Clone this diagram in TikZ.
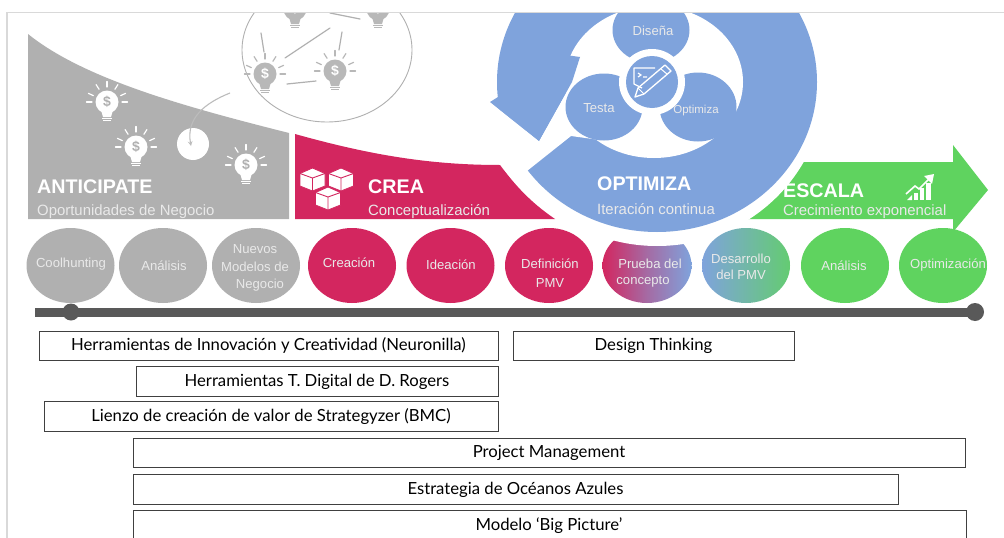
\documentclass[tikz,border=0pt]{standalone}
\usepackage{fontspec}
\setmainfont{Liberation Sans}
\newfontfamily\boxfont{Lato}
\definecolor{gr}{HTML}{B0B0B0}
\definecolor{cr}{HTML}{D3265F}
\definecolor{bl}{HTML}{7FA3DC}
\definecolor{gn}{HTML}{5FD35F}
\definecolor{bar}{HTML}{595959}
\definecolor{soft}{HTML}{E9E9E9}
\tikzset{
  title/.style={anchor=west,inner sep=0pt,text=white,font=\fontsize{19.7}{21}\selectfont\bfseries},
  sub/.style={anchor=west,inner sep=0pt,text=soft,font=\fontsize{14.9}{16}\selectfont},
  dot/.style={inner sep=0pt,align=center,text=soft,font=\fontsize{13.1}{18}\selectfont},
  tool/.style={draw=black!75,line width=0.8pt,fill=white,inner sep=0pt,text height=12pt,text depth=2pt,font=\boxfont\fontsize{16.7}{18}\selectfont,text=black},
  thin gray/.style={draw=gr,line width=0.9pt},
  wire/.style={draw=gr,line width=1.2pt,line cap=round}
}
% \bulb{name}{x}{y}{glass colour}{dollar colour}
\newcommand{\bulb}[5]{%
  \begin{scope}[shift={(#2,#3)}]
    \fill[#4] (0,0) circle[radius=11.5pt];
    \fill[#4] (-6,8) -- (6,8) -- (4,15) -- (-4,15) -- cycle;
    \fill[#4] (-5,15.8) rectangle (5,17);
    \fill[#4] (-4,18) rectangle (4,19);
    \foreach \a in {0,180,25,155,58,122,90}{
      \draw[#4,line width=1.2pt,line cap=round] (\a:15pt) -- (\a:20.5pt);
    }
    \node[inner sep=0pt,text=#5,font=\fontsize{14}{14}\selectfont\bfseries] (#1) at (0,0) {\$};
  \end{scope}}
\newcommand{\cube}[2]{%
  \begin{scope}[shift={(#1,#2)}]
    \filldraw[fill=white,draw=cr,line width=0.8pt] (-12.5,-6) -- (0,-11.5) -- (12.5,-6) -- (12.5,6.5) -- (0,11.5) -- (-12.5,6.5) -- cycle;
    \draw[cr,line width=0.9pt] (-12.5,-6) -- (0,-1.5) -- (12.5,-6) (0,-1.5) -- (0,11.5);
  \end{scope}}
\begin{document}
\begin{tikzpicture}[x=1pt,y=-1pt]
\useasboundingbox (0,0) rectangle (1004,538);
\clip (0,0) rectangle (1004,538);
\fill[white] (0,0) rectangle (1004,538);

% thought bubble
\draw[thin gray] (327,50) ellipse[x radius=85pt,y radius=72pt];
\bulb{b4}{265}{74}{gr!90}{white}
\bulb{b5}{335}{71}{gr!90}{white}
\bulb{b6}{295}{9}{gr!90}{white}
\bulb{b7}{378}{9}{gr!90}{white}
\draw[wire] (261,33) -- (264,52);
\draw[wire] (285,58) -- (330,28);
\draw[wire] (342,32) -- (339,50);
\draw[wire] (287,84) -- (316,81);
\draw[wire] (330,13) -- (360,19);

% green arrow (its left edge is cut by the halo below)
\fill[gn] (730,219) -- (780,162) -- (953,162) -- (953,145)
  -- (988,190) -- (953,232) -- (953,219) -- cycle;

% prueba circle, cut by the halo round the blue disc
\shade[left color=cr,right color=bl,middle color=cr!45!bl] (647,265.5) ellipse[x radius=44.5pt,y radius=37.5pt];
\fill[white] (657,82) ellipse[x radius=168pt,y radius=164pt];

% blue cycle
\fill[bl] (657,82) ellipse[x radius=160pt,y radius=150pt];
\fill[white] (654,82) ellipse[x radius=89pt,y radius=76pt];
\fill[white] (490,102) -- (539,141) -- (572,82) -- (600,100) -- (600,140) -- (571,136)
  -- (527,171) -- (480,195) -- (480,102) -- cycle;
\fill[bl] (490,102) -- (498,97) -- (530,50) -- (580,57) -- (572,82) -- (539,141) -- cycle;
\fill[bl] (651,30) ellipse[x radius=38.5pt,y radius=33pt];
\fill[bl] (604,107) ellipse[x radius=38.5pt,y radius=33.5pt];
\fill[bl] (698,107) ellipse[x radius=38.5pt,y radius=34.5pt];
\fill[white] (652,82) circle[radius=33pt];
\fill[bl] (652,82) circle[radius=26pt];
% pencil-and-screen icon
\draw[white,line width=1.2pt,line join=round] (655,68) -- (634,68) -- (634,84) -- (642,88);
\draw[white,line width=1.2pt] (638,73) -- (641,75) -- (638,77) (643,77) -- (647,77);
\draw[white,line width=1.3pt,line join=round] (635,97) -- (638,88) -- (665,65) -- (671,71) -- (644,94) -- cycle;
\draw[white,line width=1pt] (638,88) -- (644,94) (661,69) -- (667,74);

% gray block
\fill[gr] (28,34) .. controls (85,80) and (190,108) .. (289,133) -- (289,219) -- (28,219) -- cycle;
\bulb{b1}{107}{102}{white}{gr}
\bulb{b2}{136}{147}{white}{gr}
\bulb{b3}{246}{165}{white}{gr}
\fill[white] (193,144) circle[radius=16pt];
\coordinate (curveA) at (230,93);
\coordinate (curveB) at (191,146);
\draw[gr!85!white,line width=1.1pt,-stealth] (curveA) .. controls (205,103) and (186,118) .. (curveB);

% crimson block
\fill[cr] (295,134) .. controls (370,155) and (430,165) .. (500,165)
  .. controls (515,185) and (530,202) .. (555,219) -- (295,219) -- cycle;
\cube{312.5}{179.5}
\cube{341}{179.5}
\cube{328}{198.5}

% chart icon
\begin{scope}
  \fill[white] (907,200) -- (912,195) -- (912,200) -- cycle;
  \fill[white] (914,193) rectangle (918,200);
  \fill[white] (920,188) rectangle (924,200);
  \fill[white] (926,183) rectangle (931,200);
  \draw[white,line width=1.6pt] (906,194) -- (915,186) -- (919,189) -- (931,177);
  \fill[white] (934,174) -- (924,176) -- (932,184) -- cycle;
\end{scope}

% block titles
\node[title] (t1) at (37,187) {ANTICIPATE};
\node[sub]   (s1) at (37,212) {Oportunidades de Negocio};
\node[title] (t2) at (368,187) {CREA};
\node[sub]   (s2) at (368,212) {Conceptualización};
\node[title] (t3) at (597,184) {OPTIMIZA};
\node[sub]   (s3) at (597,209) {Iteración continua};
\node[title] (t4) at (783,191) {ESCALA};
\node[sub]   (s4) at (783,212) {Crecimiento exponencial};

% cycle labels
\node[dot] (c1) at (653,31) {Diseña};
\node[dot] (c2) at (599,108) {Testa};
\node[dot,font=\fontsize{11.5}{14}\selectfont] (c3) at (696,111) {Optimiza};

% row of discs
\fill[gr] (70.5,265.5) ellipse[x radius=44pt,y radius=37.5pt];
\fill[gr] (163,265.5) ellipse[x radius=44pt,y radius=37.5pt];
\fill[gr] (256,265.5) ellipse[x radius=44pt,y radius=37.5pt];
\fill[cr] (352,265.5) ellipse[x radius=44pt,y radius=37.5pt];
\fill[cr] (450.5,265.5) ellipse[x radius=44pt,y radius=37.5pt];
\fill[cr] (549,265.5) ellipse[x radius=44pt,y radius=37.5pt];
\shade[left color=bl,right color=gn!85!bl] (746,265.5) ellipse[x radius=44pt,y radius=37.5pt];
\fill[gn] (845,265.5) ellipse[x radius=44pt,y radius=37.5pt];
\fill[gn] (943,265.5) ellipse[x radius=44pt,y radius=37.5pt];

\node[dot] (d1) at (71,264) {Coolhunting};
\node[dot] (d2) at (164,266) {Análisis};
\node[dot] (d3a) at (255,249) {Nuevos};
\node[dot] (d3b) at (255,267) {Modelos de};
\node[dot] (d3c) at (260,285) {Negocio};
\node[dot] (d4) at (349,263) {Creación};
\node[dot] (d5) at (451,265) {Ideación};
\node[dot] (d6a) at (550,264) {Definición};
\node[dot] (d6b) at (550,283) {PMV};
\node[dot] (d7a) at (650,264) {Prueba del};
\node[dot] (d7b) at (643,282) {concepto};
\node[dot] (d8a) at (741,259) {Desarrollo};
\node[dot] (d8b) at (741,275) {del PMV};
\node[dot] (d9) at (844,266) {Análisis};
\node[dot] (d10) at (948,265) {Optimización};

% timeline
\coordinate (barA) at (35,312);
\coordinate (barB) at (975,312);
\coordinate (dotA) at (71,312);
\draw[bar,line width=9pt] (barA) -- (barB);
\fill[bar] (dotA) circle[radius=8.5pt];
\fill[bar] (barB) circle[radius=9pt];

% tool boxes
\node[tool,minimum width=459pt,minimum height=29pt] (h1) at (268.5,345.5) {Herramientas de Innovación y Creatividad (Neuronilla)};
\node[tool,minimum width=281pt,minimum height=29pt] (h2) at (653.5,345.5) {Design Thinking};
\node[tool,minimum width=362pt,minimum height=30pt] (h3) at (317,381) {Herramientas T. Digital de D. Rogers};
\node[tool,minimum width=454pt,minimum height=30pt] (h4) at (271,416) {Lienzo de creación de valor de Strategyzer (BMC)};
\node[tool,minimum width=832pt,minimum height=29pt] (h5) at (549,452.5) {Project Management};
\node[tool,minimum width=765pt,minimum height=30pt] (h6) at (515.5,489) {Estrategia de Océanos Azules};
\node[tool,minimum width=833pt,minimum height=36pt,text height=0pt,text depth=0pt] (h7) at (549.5,528) {};
\node[inner sep=0pt,font=\boxfont\fontsize{16.7}{18}\selectfont] (h7t) at (549,526) {Modelo ‘Big Picture’};

% page frame
\fill[white] (0,0) rectangle (1004,12);
\fill[white] (0,0) rectangle (7,538);
\draw[black!15,line width=1.2pt] (7,538) -- (7,12.5) -- (1004,12.5);
\end{tikzpicture}
\end{document}
